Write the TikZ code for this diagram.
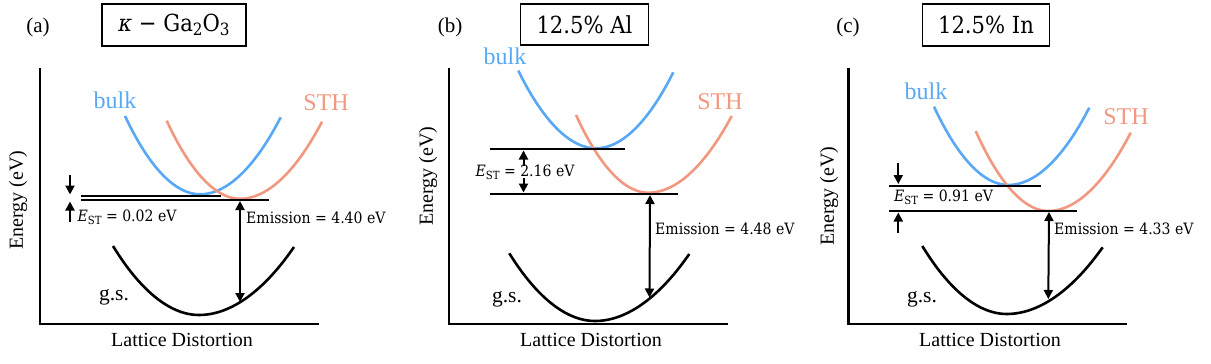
\documentclass[tikz,border=0pt]{standalone}
\usepackage{fontspec}
\newfontfamily\gar{Liberation Serif}
\newfontfamily\camb[FakeStretch=0.9]{DejaVu Serif}
\usetikzlibrary{arrows.meta}
\newcommand{\sbs}[1]{\raisebox{-0.32ex}{\scalebox{0.72}{#1}}}
\newcommand{\est}{{\itshape E}\sbs{ST}}
\definecolor{bulkblue}{RGB}{88,168,245}
\definecolor{sthred}{RGB}{243,152,128}
\tikzset{
 axisline/.style={line width=2.6pt},
 gscurve/.style={line width=2.6pt},
 bulkcurve/.style={line width=2.6pt, bulkblue},
 sthcurve/.style={line width=2.6pt, sthred},
 level/.style={line width=1.7pt},
 arr/.style={line width=2pt, -{Triangle[length=9pt,width=9pt]}},
 darr/.style={line width=2pt, {Triangle[length=9pt,width=9pt]}-{Triangle[length=9pt,width=9pt]}},
 lab/.style={font=\gar\fontsize{20}{22}\selectfont, inner sep=0pt},
 panellab/.style={font=\gar\fontsize{21}{23}\selectfont, inner sep=0pt},
 gslab/.style={font=\gar\fontsize{21.5}{23}\selectfont, inner sep=0pt},
 curvelab/.style={font=\gar\fontsize{24}{26}\selectfont, inner sep=0pt},
 titlebox/.style={draw, line width=1.3pt, font=\camb\fontsize{23.5}{26}\selectfont, inner sep=0pt},
 val/.style={font=\camb\fontsize{15.6}{18}\selectfont, inner sep=0pt},
}
\begin{document}
\begin{tikzpicture}[x=1pt,y=-1pt]
\useasboundingbox (0,0) rectangle (1211,364);
% ---------------- panel (a)
\node[panellab] (alab) at (38,27) {(a)};
\node[titlebox, minimum width=144pt, minimum height=42pt] (atitle) at (174,25) {{\itshape κ} − Ga\sbs{2}O\sbs{3}};
\coordinate (aO) at (40,324);
\coordinate (aY) at (40,68);
\coordinate (aX) at (319,324);
\draw[axisline] (aY) -- (aO) -- (aX);
\node[lab, rotate=90] (aEn) at (18,200) {Energy (eV)};
\node[lab] (aLD) at (182,340) {Lattice Distortion};
\node[gslab] (ags) at (114,297) {g.s.};
\draw[gscurve] (113,246) parabola bend (199,315) (294,247);
\draw[bulkcurve] (125,116) parabola bend (200,194.3) (280.7,117.3);
\draw[sthcurve] (166.7,120.7) parabola bend (240,198.8) (322,121.7);
\node[curvelab, bulkblue] (abulk) at (115,100) {bulk};
\node[curvelab, sthred] (asth) at (326,103) {STH};
\coordinate (aL1a) at (80.7,196); \coordinate (aL1b) at (221,196);
\coordinate (aL2a) at (80.7,200.3); \coordinate (aL2b) at (269,200.3);
\draw[level] (aL1a) -- (aL1b);
\draw[level] (aL2a) -- (aL2b);
\coordinate (aA1) at (70,175); \coordinate (aA1t) at (70,194.5);
\coordinate (aA2) at (70,222); \coordinate (aA2t) at (70,201.5);
\draw[arr] (aA1) -- (aA1t);
\draw[arr] (aA2) -- (aA2t);
\node[val, anchor=west] (aEST) at (77.5,217) {\est\ = 0.02 eV};
\coordinate (aE1) at (240,201); \coordinate (aE2) at (240,302);
\draw[darr] (aE1) -- (aE2);
\node[val, anchor=west] (aEm) at (246,218) {Emission = 4.40 eV};
% ---------------- panel (b)
\node[panellab] (blab) at (450,27) {(b)};
\node[titlebox, minimum width=128pt, minimum height=41pt] (btitle) at (584.5,24.5) {12.5\% Al};
\coordinate (bO) at (449,324);
\coordinate (bY) at (449,68);
\coordinate (bX) at (728,324);
\draw[axisline] (bY) -- (bO) -- (bX);
\node[lab, rotate=90] (bEn) at (428,176) {Energy (eV)};
\node[lab] (bLD) at (591,340) {Lattice Distortion};
\node[gslab] (bgs) at (507,299) {g.s.};
\draw[gscurve] (509.3,253.3) parabola bend (595,321) (689.3,254);
\draw[bulkcurve] (518.3,70.7) parabola bend (596,148.3) (673.3,72.3);
\draw[sthcurve] (576,115) parabola bend (648.3,192.7) (731.7,116);
\node[curvelab, bulkblue] (bbulk) at (505,56) {bulk};
\node[curvelab, sthred] (bsth) at (720,102) {STH};
\coordinate (bL1a) at (490,149.3); \coordinate (bL1b) at (625,149.3);
\coordinate (bL2a) at (490,193.7); \coordinate (bL2b) at (678.3,193.7);
\draw[level] (bL1a) -- (bL1b);
\draw[level] (bL2a) -- (bL2b);
\coordinate (bA1) at (523.5,166); \coordinate (bA1t) at (523.5,150.5);
\coordinate (bA2) at (523.5,178); \coordinate (bA2t) at (523.5,192.5);
\draw[arr] (bA1) -- (bA1t);
\draw[arr] (bA2) -- (bA2t);
\node[val, anchor=west] (bEST) at (475.5,172) {\est\ = 2.16 eV};
\coordinate (bE1) at (650,195); \coordinate (bE2) at (649.5,297.5);
\draw[darr] (bE1) -- (bE2);
\node[val, anchor=west] (bEm) at (655,229) {Emission = 4.48 eV};
% ---------------- panel (c)
\node[panellab] (clab) at (848,27) {(c)};
\node[titlebox, minimum width=127pt, minimum height=42pt] (ctitle) at (986,25) {12.5\% In};
\coordinate (cO) at (848.5,324);
\coordinate (cY) at (848.5,68);
\coordinate (cX) at (1127,324);
\draw[axisline] (cY) -- (cO) -- (cX);
\node[lab, rotate=90] (cEn) at (829,196) {Energy (eV)};
\node[lab] (cLD) at (990,340) {Lattice Distortion};
\node[gslab] (cgs) at (922,299) {g.s.};
\draw[gscurve] (922.3,246) parabola bend (1006.7,314) (1102.7,247.3);
\draw[bulkcurve] (934,106.7) parabola bend (1008.3,185) (1089.3,107.7);
\draw[sthcurve] (975.7,131) parabola bend (1048.3,211) (1130.7,132.7);
\node[curvelab, bulkblue] (cbulk) at (926,91.5) {bulk};
\node[curvelab, sthred] (csth) at (1126,116.5) {STH};
\coordinate (cL1a) at (889.3,185.7); \coordinate (cL1b) at (1041,185.7);
\coordinate (cL2a) at (889.3,210.7); \coordinate (cL2b) at (1076.7,210.7);
\draw[level] (cL1a) -- (cL1b);
\draw[level] (cL2a) -- (cL2b);
\coordinate (cA1) at (898.3,163); \coordinate (cA1t) at (898.3,184);
\coordinate (cA2) at (898.3,233); \coordinate (cA2t) at (898.3,212.5);
\draw[arr] (cA1) -- (cA1t);
\draw[arr] (cA2) -- (cA2t);
\node[val, anchor=west] (cEST) at (894,197.5) {\est\ = 0.91 eV};
\coordinate (cE1) at (1049,212); \coordinate (cE2) at (1048.3,299);
\draw[darr] (cE1) -- (cE2);
\node[val, anchor=west] (cEm) at (1054,229) {Emission = 4.33 eV};
\end{tikzpicture}
\end{document}
